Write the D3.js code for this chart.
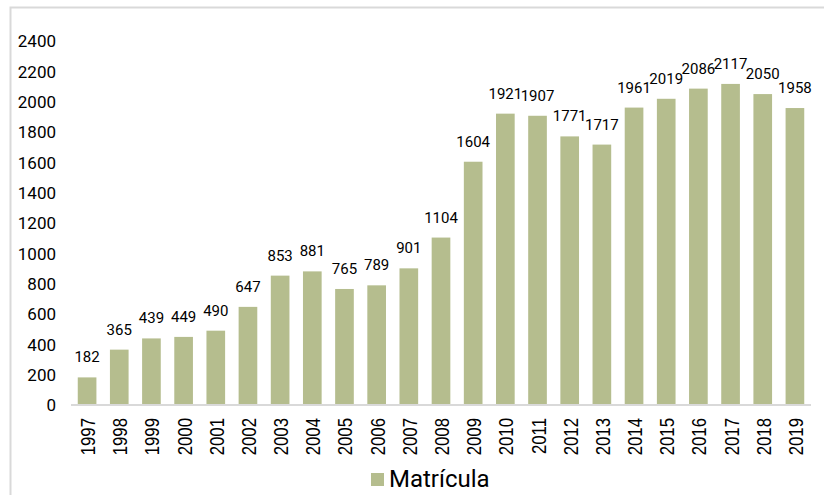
<!DOCTYPE html>
<html>
<head>
<meta charset="utf-8">
<script src="https://cdn.jsdelivr.net/npm/d3@7"></script>
<style>
  body { margin: 0; background: #fff; }
  svg { display: block; }
</style>
</head>
<body>
<div id="chart"></div>
<script>
// données
const years = ["1997","1998","1999","2000","2001","2002","2003","2004","2005","2006","2007","2008",
               "2009","2010","2011","2012","2013","2014","2015","2016","2017","2018","2019"];
const matricula = [182,365,439,449,490,647,853,881,765,789,901,1104,
                   1604,1921,1907,1771,1717,1961,2019,2086,2117,2050,1958];
const yTicks = [0,200,400,600,800,1000,1200,1400,1600,1800,2000,2200,2400];
const seriesName = "Matrícula";

// constantes
const w = 824, h = 495;
const plotLeft = 71, plotRight = 811, plotTop = 41, plotBottom = 405;
const barColor = "#b5bd8e";

const svg = d3.select("#chart").append("svg")
    .attr("width", w)
    .attr("height", h);

// cadre
svg.append("path")
    .attr("d", "M10.5," + h + "V7.5H" + w)
    .attr("fill", "none")
    .attr("stroke", "#d9d9d9")
    .attr("stroke-width", 2);

// échelles
const xScale = d3.scaleBand()
    .domain(years)
    .range([plotLeft, plotRight])
    .paddingInner(0.42)
    .paddingOuter(0.21);

const yScale = d3.scaleLinear()
    .domain([0, 2400])
    .range([plotBottom, plotTop]);

// axe y (labels only)
const axeY = d3.axisLeft(yScale)
    .tickValues(yTicks)
    .tickFormat(d3.format("d"))
    .tickSize(0)
    .tickPadding(0);

svg.append("g")
    .attr("transform", "translate(56,0)")
    .call(axeY)
    .call(g => g.select(".domain").remove())
    .selectAll("text")
    .attr("font-family", "Roboto, sans-serif")
    .attr("font-size", "17px")
    .attr("fill", "#000")
    .attr("dy", "0.35em");

// barres
svg.selectAll("rect.bar")
    .data(matricula)
    .enter()
    .append("rect")
    .attr("class", "bar")
    .attr("x", (d, i) => xScale(years[i]))
    .attr("y", d => yScale(d))
    .attr("width", xScale.bandwidth())
    .attr("height", d => yScale(0) - yScale(d))
    .attr("fill", barColor);

// étiquettes
svg.selectAll("text.lbl")
    .data(matricula)
    .enter()
    .append("text")
    .attr("class", "lbl")
    .attr("x", (d, i) => xScale(years[i]) + xScale.bandwidth() / 2)
    .attr("y", d => yScale(d) - 15)
    .attr("text-anchor", "middle")
    .attr("font-family", "Roboto, sans-serif")
    .attr("font-size", "15px")
    .attr("fill", "#000")
    .text(d => d);

// axe x
const axeX = d3.axisBottom(xScale).tickSize(0).tickPadding(0);
const gx = svg.append("g")
    .attr("transform", "translate(0," + plotBottom + ")")
    .call(axeX);
gx.select(".domain")
    .attr("stroke", "#d9d9d9")
    .attr("stroke-width", 2)
    .attr("d", "M" + plotLeft + ",0H" + plotRight);
gx.selectAll(".tick text")
    .attr("font-family", "'Liberation Sans', Arial, sans-serif")
    .attr("font-size", "21px")
    .attr("fill", "#000")
    .attr("text-anchor", "end")
    .attr("dy", null)
    .attr("y", 0)
    .attr("transform", "translate(8,13) rotate(-90) scale(0.8,1)");

// légende
const leg = svg.append("g").attr("transform", "translate(371,473)");
leg.append("rect")
    .attr("width", 13)
    .attr("height", 13)
    .attr("fill", barColor);
leg.append("text")
    .attr("x", 18)
    .attr("y", 13.5)
    .attr("font-family", "Roboto, sans-serif")
    .attr("font-size", "24px")
    .attr("fill", "#000")
    .text(seriesName);
</script>
</body>
</html>
